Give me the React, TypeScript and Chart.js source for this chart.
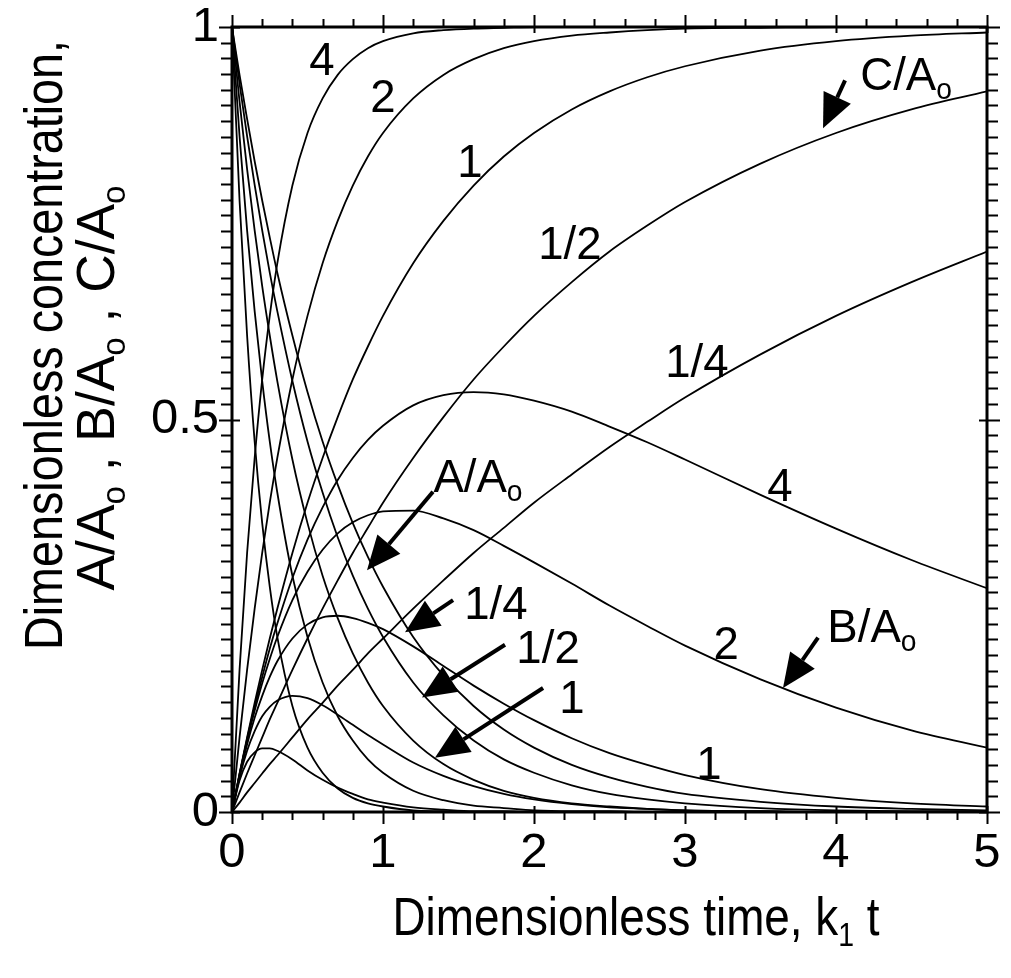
import React, { useEffect, useRef } from "react";
import { Chart, registerables } from "chart.js";

Chart.register(...registerables);

// ---------- data ----------
const timeValues = [0, 0.05, 0.1, 0.15, 0.2, 0.25, 0.3, 0.4, 0.5, 0.6, 0.7, 0.8, 0.9, 1.0, 1.2, 1.4, 1.6, 1.8, 2.0, 2.25, 2.5, 2.75, 3.0, 3.5, 4.0, 4.5, 5.0];

// A/Ao curves (k = 1/4, 1/2, 1, 2, 4)
const aQuarter = [1, .939, .883, .829, .779, .732, .687, .607, .535, .472, .417, .368, .325, .287, .223, .174, .135, .105, .082, .060, .044, .032, .023, .013, .007, .004, .002];
const aHalf = [1, .928, .861, .799, .741, .687, .638, .549, .472, .407, .350, .301, .259, .223, .165, .123, .091, .067, .050, .034, .023, .016, .011, .005, .002, .001, .001];
const aOne = [1, .905, .819, .741, .670, .607, .549, .449, .368, .301, .247, .202, .165, .135, .091, .061, .041, .027, .018, .011, .007, .004, .002, .001, 0, 0, 0];
const aTwo = [1, .861, .741, .638, .549, .472, .407, .301, .223, .165, .122, .091, .067, .050, .027, .015, .008, .005, .002, .001, .001, 0, 0, 0, 0, 0, 0];
const aFour = [1, .779, .607, .472, .368, .287, .223, .135, .082, .050, .030, .018, .011, .007, .002, .001, 0, 0, 0, 0, 0, 0, 0, 0, 0, 0, 0];

// B/Ao curves
const bQuarter = [0, .048, .093, .134, .172, .208, .240, .298, .347, .388, .423, .451, .474, .492, .518, .531, .535, .532, .524, .510, .491, .471, .449, .404, .361, .321, .285];
const bHalf = [0, .048, .091, .129, .164, .195, .223, .270, .306, .334, .355, .369, .378, .383, .384, .374, .359, .339, .318, .291, .263, .237, .212, .169, .133, .104, .082];
const bOne = [0, .046, .086, .120, .148, .172, .192, .221, .239, .248, .250, .247, .241, .233, .211, .186, .161, .138, .117, .094, .075, .060, .047, .029, .018, .011, .007];
const bTwo = [0, .044, .078, .103, .122, .134, .142, .148, .145, .136, .124, .111, .098, .086, .063, .046, .033, .023, .016, .010, .006, .004, .002, .001, 0, 0, 0];
const bFour = [0, .040, .064, .076, .081, .081, .078, .067, .053, .041, .031, .023, .016, .012, .006, .003, .001, .001, 0, 0, 0, 0, 0, 0, 0, 0, 0];

// C/Ao curves
const cQuarter = [0, .012, .025, .037, .049, .061, .072, .095, .118, .139, .161, .181, .202, .221, .259, .295, .330, .362, .394, .430, .465, .497, .528, .583, .632, .675, .714];
const cHalf = [0, .025, .049, .072, .095, .118, .139, .181, .221, .259, .295, .330, .362, .394, .451, .503, .551, .593, .632, .675, .714, .747, .777, .826, .865, .895, .918];
const cOne = [0, .049, .095, .139, .181, .221, .259, .330, .394, .451, .503, .551, .593, .632, .699, .753, .798, .835, .865, .895, .918, .936, .950, .970, .982, .989, .993];
const cTwo = [0, .095, .181, .259, .330, .394, .451, .551, .632, .699, .753, .798, .835, .865, .909, .939, .959, .973, .982, .989, .993, .996, .998, .999, 1, 1, 1];
const cFour = [0, .181, .330, .451, .551, .632, .699, .798, .865, .909, .939, .959, .973, .982, .992, .996, .998, .999, 1, 1, 1, 1, 1, 1, 1, 1, 1];

const seriesNames = ["A 1/4", "A 1/2", "A 1", "A 2", "A 4", "B 1/4", "B 1/2", "B 1", "B 2", "B 4", "C 1/4", "C 1/2", "C 1", "C 2", "C 4"];
const seriesValues = [aQuarter, aHalf, aOne, aTwo, aFour, bQuarter, bHalf, bOne, bTwo, bFour, cQuarter, cHalf, cOne, cTwo, cFour];

const xTickValues = [0, 1, 2, 3, 4, 5];
const yTickValues = [0, 0.5, 1];

// ---------- texts ----------
type Seg = { t: string; sub?: boolean };

const xTitle: Seg[] = [{ t: "Dimensionless time, k" }, { t: "1", sub: true }, { t: " t" }];
const yTitle1: Seg[] = [{ t: "Dimensionless concentration," }];
const yTitle2: Seg[] = [
  { t: "A/A" }, { t: "o", sub: true }, { t: " , B/A" }, { t: "o", sub: true }, { t: " , C/A" }, { t: "o", sub: true },
];

// curve labels: centre x / baseline y in data units
const curveLabels: { segs: Seg[]; x: number; y: number }[] = [
  { segs: [{ t: "4" }], x: 0.596, y: 0.939 },
  { segs: [{ t: "2" }], x: 1.0, y: 0.892 },
  { segs: [{ t: "1" }], x: 1.576, y: 0.809 },
  { segs: [{ t: "1/2" }], x: 2.238, y: 0.704 },
  { segs: [{ t: "1/4" }], x: 3.079, y: 0.554 },
  { segs: [{ t: "C/A" }, { t: "o", sub: true }], x: 4.464, y: 0.92 },
  { segs: [{ t: "4" }], x: 3.629, y: 0.396 },
  { segs: [{ t: "2" }], x: 3.272, y: 0.195 },
  { segs: [{ t: "B/A" }, { t: "o", sub: true }], x: 4.238, y: 0.217 },
  { segs: [{ t: "1" }], x: 3.159, y: 0.042 },
  { segs: [{ t: "A/A" }, { t: "o", sub: true }], x: 1.629, y: 0.408 },
  { segs: [{ t: "1/4" }], x: 1.748, y: 0.246 },
  { segs: [{ t: "1/2" }], x: 2.093, y: 0.19 },
  { segs: [{ t: "1" }], x: 2.252, y: 0.126 },
];

// arrows: tail -> tip in data units
const arrowList: { from: [number, number]; to: [number, number] }[] = [
  { from: [4.06, 0.932], to: [3.914, 0.871] },
  { from: [3.881, 0.222], to: [3.649, 0.158] },
  { from: [1.331, 0.408], to: [0.894, 0.308] },
  { from: [1.464, 0.27], to: [1.146, 0.229] },
  { from: [1.808, 0.213], to: [1.258, 0.146] },
  { from: [2.06, 0.158], to: [1.344, 0.069] },
];

const FONT = "'Liberation Sans', Arial, Helvetica, sans-serif";

function drawRich(
  ctx: CanvasRenderingContext2D,
  segs: Seg[],
  cx: number,
  by: number,
  size: number,
  opts: { target?: number; squeeze?: number; rotate?: boolean }
) {
  const subSize = size * 0.62;
  ctx.save();
  ctx.translate(cx, by);
  if (opts.rotate) ctx.rotate(-Math.PI / 2);
  let w = 0;
  const widths = segs.map((s) => {
    ctx.font = `${s.sub ? subSize : size}px ${FONT}`;
    const m = ctx.measureText(s.t).width;
    w += m;
    return m;
  });
  const k = opts.target ? opts.target / w : opts.squeeze ?? 1;
  ctx.scale(k, 1);
  ctx.textAlign = "left";
  ctx.textBaseline = "alphabetic";
  ctx.fillStyle = "#000";
  let x = -w / 2;
  segs.forEach((s, i) => {
    ctx.font = `${s.sub ? subSize : size}px ${FONT}`;
    ctx.fillText(s.t, x, s.sub ? size * 0.2 : 0);
    x += widths[i];
  });
  ctx.restore();
}

function drawArrow(ctx: CanvasRenderingContext2D, x1: number, y1: number, x2: number, y2: number) {
  const ang = Math.atan2(y2 - y1, x2 - x1);
  const L = 34;
  const H = 15;
  const bx = x2 - L * Math.cos(ang);
  const by = y2 - L * Math.sin(ang);
  ctx.lineWidth = 4;
  ctx.beginPath();
  ctx.moveTo(x1, y1);
  ctx.lineTo(bx, by);
  ctx.stroke();
  ctx.beginPath();
  ctx.moveTo(x2, y2);
  ctx.lineTo(bx + H * Math.sin(ang), by - H * Math.cos(ang));
  ctx.lineTo(bx - H * Math.sin(ang), by + H * Math.cos(ang));
  ctx.closePath();
  ctx.fill();
}

const decorPlugin = {
  id: "decor",
  afterDraw(chart: any) {
    const ctx: CanvasRenderingContext2D = chart.ctx;
    const ca = chart.chartArea;
    const xs = chart.scales.x;
    const ys = chart.scales.y;
    ctx.save();
    ctx.strokeStyle = "#000";
    ctx.fillStyle = "#000";

    // frame
    ctx.lineWidth = 3;
    ctx.strokeRect(ca.left, ca.top, ca.right - ca.left, ca.bottom - ca.top);

    // ticks
    ctx.lineWidth = 2;
    ctx.beginPath();
    for (let i = 0; i <= 25; i++) {
      const px = Math.round(xs.getPixelForValue(i / 5)) + 0.5;
      const major = i % 5 === 0;
      const out = major ? 12 : 8;
      const inn = major ? 6 : 0;
      ctx.moveTo(px, ca.bottom - inn);
      ctx.lineTo(px, ca.bottom + out);
      ctx.moveTo(px, ca.top + inn);
      ctx.lineTo(px, ca.top - out);
    }
    for (let i = 0; i <= 50; i++) {
      const py = Math.round(ys.getPixelForValue(i / 50)) + 0.5;
      const major = i % 25 === 0;
      const out = major ? 13 : 11;
      const inn = major ? 8 : 0;
      ctx.moveTo(ca.left + inn, py);
      ctx.lineTo(ca.left - out, py);
      ctx.moveTo(ca.right - inn, py);
      ctx.lineTo(ca.right + out, py);
    }
    ctx.stroke();

    // curve labels
    curveLabels.forEach((l) => {
      drawRich(ctx, l.segs, xs.getPixelForValue(l.x), ys.getPixelForValue(l.y), 47, { squeeze: 0.97 });
    });

    // arrows
    arrowList.forEach((a) => {
      drawArrow(
        ctx,
        xs.getPixelForValue(a.from[0]),
        ys.getPixelForValue(a.from[1]),
        xs.getPixelForValue(a.to[0]),
        ys.getPixelForValue(a.to[1])
      );
    });

    // axis titles
    drawRich(ctx, xTitle, 636, 935, 53, { target: 487 });
    drawRich(ctx, yTitle1, 62, 345, 53, { target: 610, rotate: true });
    drawRich(ctx, yTitle2, 114, 388, 53, { target: 405, rotate: true });

    ctx.restore();
  },
};

export default function App() {
  const ref = useRef<HTMLCanvasElement | null>(null);

  useEffect(() => {
    const canvas = ref.current;
    if (!canvas) return;
    const datasets = seriesValues.map((vals, i) => ({
      label: seriesNames[i],
      data: timeValues.map((x, j) => ({ x, y: vals[j] })),
      borderColor: "#000",
      backgroundColor: "#000",
      borderWidth: 1.8,
      pointRadius: 0,
      fill: false,
      cubicInterpolationMode: "monotone" as const,
    }));

    const chart = new Chart(canvas, {
      type: "line",
      data: { datasets },
      options: {
        animation: false,
        responsive: false,
        devicePixelRatio: 1,
        layout: { padding: { top: 27, right: 24, left: 0, bottom: 0 } },
        plugins: { legend: { display: false }, tooltip: { enabled: false } },
        scales: {
          x: {
            type: "linear",
            min: 0,
            max: 5,
            grid: { display: false, drawTicks: false },
            border: { display: false },
            afterBuildTicks: (s: any) => {
              s.ticks = xTickValues.map((v) => ({ value: v }));
            },
            afterFit: (s: any) => {
              s.height = 166;
              s.paddingLeft = 0;
              s.paddingRight = 0;
              s.paddingTop = 0;
              s.paddingBottom = 0;
            },
            ticks: {
              autoSkip: false,
              maxRotation: 0,
              padding: 12,
              color: "#000",
              font: { size: 49, family: FONT },
              callback: (v: any) => String(v),
            },
          },
          y: {
            type: "linear",
            min: 0,
            max: 1,
            grid: { display: false, drawTicks: false },
            border: { display: false },
            afterBuildTicks: (s: any) => {
              s.ticks = yTickValues.map((v) => ({ value: v }));
            },
            afterFit: (s: any) => {
              s.width = 232;
              s.paddingLeft = 0;
              s.paddingRight = 0;
              s.paddingTop = 0;
              s.paddingBottom = 0;
            },
            ticks: {
              padding: 13,
              color: "#000",
              font: { size: 49, family: FONT },
              callback: (v: any) => String(v),
            },
          },
        },
      },
      plugins: [decorPlugin],
    });
    return () => chart.destroy();
  }, []);

  return (
    <div style={{ position: "absolute", left: 0, top: 0, width: 1011, height: 978, background: "#fff" }}>
      <canvas ref={ref} width={1011} height={978} style={{ width: 1011, height: 978, display: "block" }} />
    </div>
  );
}
